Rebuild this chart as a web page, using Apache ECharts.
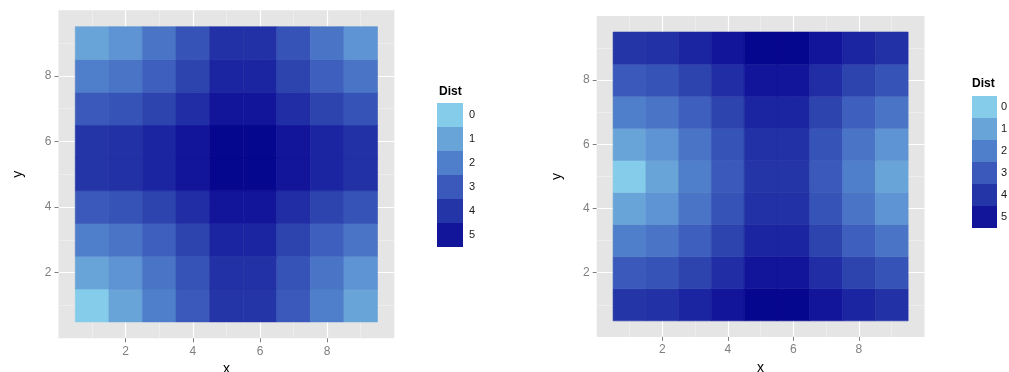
<!DOCTYPE html>
<html>
<head>
<meta charset="UTF-8">
<title>Dist</title>
<style>
  html, body { margin: 0; padding: 0; background: #fff; }
  #main { width: 1009px; height: 372px; }
</style>
</head>
<body>
<div id="main"></div>
<script src="https://cdn.jsdelivr.net/npm/echarts@6.0.0/dist/echarts.min.js"></script>
<script type="text/javascript">
// grid positions 1..9 on both axes
var xValues = [1, 2, 3, 4, 5, 6, 7, 8, 9];
var yValues = [1, 2, 3, 4, 5, 6, 7, 8, 9];

// left panel, one row per y (y = 1 first), one value per x
var leftDist = [
  [0,    1,    2,    3,    4,    4,    3,    2,    1   ],
  [1,    1.41, 2.24, 3.16, 4.12, 4.12, 3.16, 2.24, 1.41],
  [2,    2.24, 2.83, 3.61, 4.47, 4.47, 3.61, 2.83, 2.24],
  [3,    3.16, 3.61, 4.24, 5,    5,    4.24, 3.61, 3.16],
  [4,    4.12, 4.47, 5,    5.66, 5.66, 5,    4.47, 4.12],
  [4,    4.12, 4.47, 5,    5.66, 5.66, 5,    4.47, 4.12],
  [3,    3.16, 3.61, 4.24, 5,    5,    4.24, 3.61, 3.16],
  [2,    2.24, 2.83, 3.61, 4.47, 4.47, 3.61, 2.83, 2.24],
  [1,    1.41, 2.24, 3.16, 4.12, 4.12, 3.16, 2.24, 1.41]
];

// right panel, same layout
var rightDist = [
  [4,    4.12, 4.47, 5,    5.66, 5.66, 5,    4.47, 4.12],
  [3,    3.16, 3.61, 4.24, 5,    5,    4.24, 3.61, 3.16],
  [2,    2.24, 2.83, 3.61, 4.47, 4.47, 3.61, 2.83, 2.24],
  [1,    1.41, 2.24, 3.16, 4.12, 4.12, 3.16, 2.24, 1.41],
  [0,    1,    2,    3,    4,    4,    3,    2,    1   ],
  [1,    1.41, 2.24, 3.16, 4.12, 4.12, 3.16, 2.24, 1.41],
  [2,    2.24, 2.83, 3.61, 4.47, 4.47, 3.61, 2.83, 2.24],
  [3,    3.16, 3.61, 4.24, 5,    5,    4.24, 3.61, 3.16],
  [4,    4.12, 4.47, 5,    5.66, 5.66, 5,    4.47, 4.12]
];

// legend keys
var legendBreaks = [0, 1, 2, 3, 4, 5];
var tickValues = [2, 4, 6, 8];

// colour ramp, one stop per unit of Dist from 0 to 6
var rampColors = ['#84CCEA', '#69A4D9', '#4F7ECA', '#3A59BA', '#2435A7', '#12149A', '#000089'];

function toTiles(rows) {
  var out = [];
  for (var j = 0; j < yValues.length; j++) {
    for (var i = 0; i < xValues.length; i++) {
      out.push([xValues[i], yValues[j], rows[j][i]]);
    }
  }
  return out;
}

function renderTile(params, api) {
  var p0 = api.coord([api.value(0) - 0.5, api.value(1) + 0.5]);
  var p1 = api.coord([api.value(0) + 0.5, api.value(1) - 0.5]);
  var c = api.visual('color');
  return {
    type: 'rect',
    shape: { x: p0[0], y: p0[1], width: p1[0] - p0[0], height: p1[1] - p0[1] },
    style: { fill: c, stroke: c, lineWidth: 0.6 }
  };
}

var grey = '#7F7F7F';
var font = 'Liberation Sans';

function makeAxis(idx, name, gap) {
  return {
    type: 'value',
    gridIndex: idx,
    min: 0,
    max: 10,
    interval: 2,
    name: name,
    nameLocation: 'middle',
    nameGap: gap,
    nameTextStyle: { color: '#000', fontSize: 14, fontFamily: font },
    axisLine: { show: false },
    axisTick: { show: true, length: 4, customValues: tickValues, lineStyle: { color: grey, width: 1 } },
    axisLabel: { customValues: tickValues, color: grey, fontSize: 12, fontFamily: font, margin: 7 },
    splitLine: { show: true, lineStyle: { color: '#FFFFFF', width: 1.2 } },
    minorTick: { show: false, splitNumber: 2 },
    minorSplitLine: { show: true, lineStyle: { color: '#F2F2F2', width: 0.6 } }
  };
}

var legendPieces = legendBreaks.map(function (v) {
  return { value: v, label: String(v), color: rampColors[v] };
});

var chart = echarts.init(document.getElementById('main'));

var option = {
  animation: false,
  title: [
    { text: 'Dist', left: 439, top: 86, textStyle: { fontSize: 12, fontWeight: 'bold', color: '#000', fontFamily: font }, padding: 0 },
    { text: 'Dist', left: 972, top: 78, textStyle: { fontSize: 12, fontWeight: 'bold', color: '#000', fontFamily: font }, padding: 0 }
  ],
  grid: [
    { left: 58.5, top: 10.3, width: 335.8, height: 328, outerBoundsMode: 'none', containLabel: false,
      show: true, backgroundColor: '#E5E5E5', borderWidth: 0 },
    { left: 596.7, top: 16, width: 327.8, height: 320.9, outerBoundsMode: 'none', containLabel: false,
      show: true, backgroundColor: '#E5E5E5', borderWidth: 0 }
  ],
  xAxis: [
    makeAxis(0, 'x', 18),
    makeAxis(1, 'x', 16)
  ],
  yAxis: [
    makeAxis(0, 'y', 33),
    makeAxis(1, 'y', 33)
  ],
  visualMap: [
    {
      type: 'continuous', show: false, min: 0, max: 6, dimension: 2,
      seriesIndex: [0, 1], inRange: { color: rampColors }
    },
    {
      type: 'piecewise', seriesIndex: [2], left: 437, top: 103, padding: 0, align: 'left',
      orient: 'vertical', inverse: true, itemWidth: 26, itemHeight: 24, itemGap: 0, itemSymbol: 'rect',
      textGap: 6, pieces: legendPieces, hoverLink: false, selectedMode: false,
      textStyle: { color: '#1A1A1A', fontSize: 11, fontFamily: font }
    },
    {
      type: 'piecewise', seriesIndex: [3], left: 972, top: 96, padding: 0, align: 'left',
      orient: 'vertical', inverse: true, itemWidth: 25, itemHeight: 22, itemGap: 0, itemSymbol: 'rect',
      textGap: 4, pieces: legendPieces, hoverLink: false, selectedMode: false,
      textStyle: { color: '#1A1A1A', fontSize: 11, fontFamily: font }
    }
  ],
  series: [
    { type: 'custom', xAxisIndex: 0, yAxisIndex: 0, renderItem: renderTile, encode: { x: 0, y: 1 }, data: toTiles(leftDist) },
    { type: 'custom', xAxisIndex: 1, yAxisIndex: 1, renderItem: renderTile, encode: { x: 0, y: 1 }, data: toTiles(rightDist) },
    // legend-only series, no data
    { type: 'scatter', xAxisIndex: 0, yAxisIndex: 0, data: [] },
    { type: 'scatter', xAxisIndex: 1, yAxisIndex: 1, data: [] }
  ]
};

chart.setOption(option);
</script>
</body>
</html>
